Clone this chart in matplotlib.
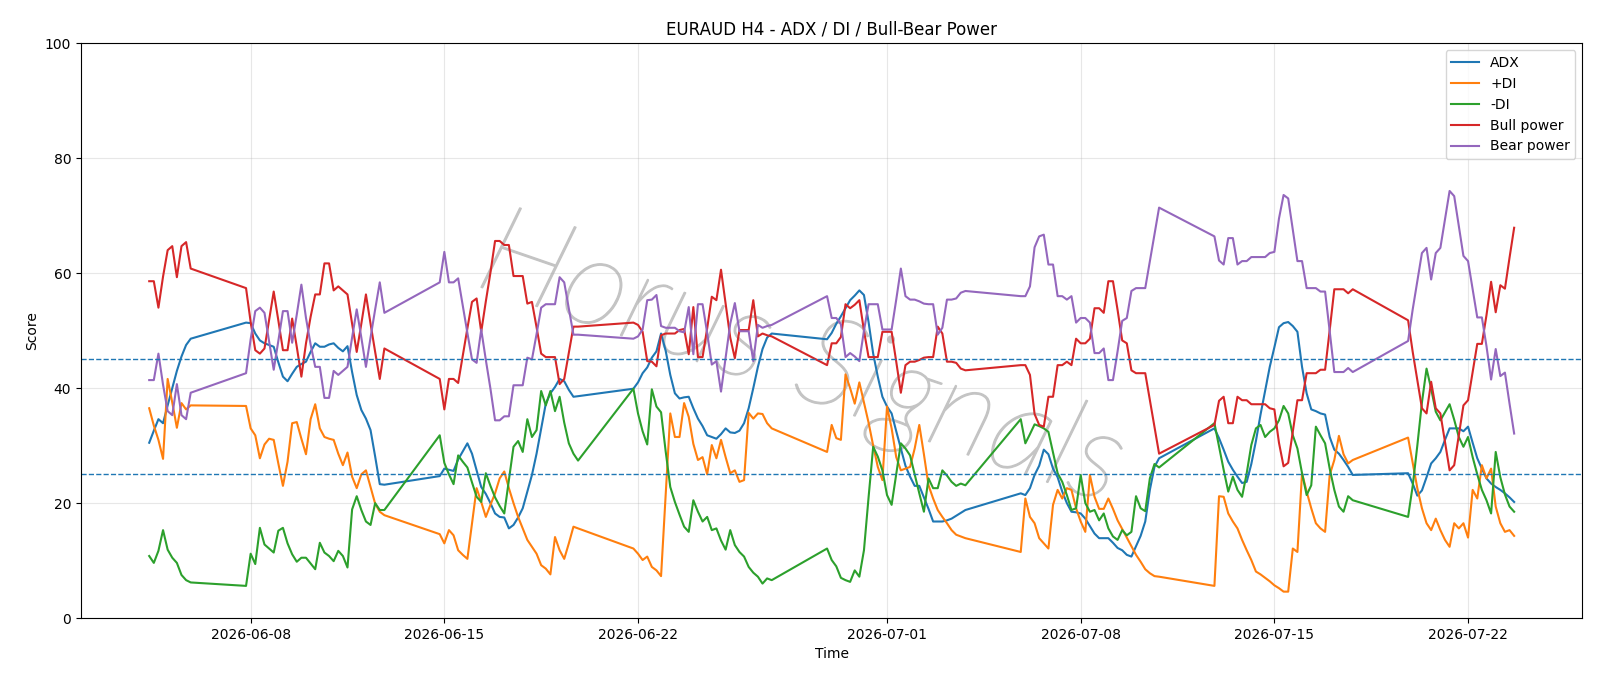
import pandas as pd
import matplotlib
matplotlib.use("Agg")
import matplotlib.pyplot as plt
import matplotlib.patheffects as pe

# H4 bars per trading session (start, number of bars)
sessions = [
    ("2026-06-04 08:00", 10),
    ("2026-06-07 20:00", 31),
    ("2026-06-14 20:00", 31),
    ("2026-06-21 20:00", 31),
    ("2026-06-28 20:00", 31),
    ("2026-07-05 20:00", 31),
    ("2026-07-12 20:00", 31),
    ("2026-07-19 20:00", 24),
]

adx = [
    30.5, 32.6, 34.6, 33.9, 37.0, 40.0, 43.0, 45.5, 47.5, 48.6,
    51.4, 51.3, 49.5, 48.3, 47.8, 47.5, 47.2, 44.5, 42.0, 41.2, 42.5, 43.7, 44.2, 44.6, 46.3, 47.8,
    47.2, 47.2, 47.6, 47.8, 47.0, 46.4, 47.3, 42.8, 38.8, 36.2, 34.7, 32.7, 28.1, 23.3, 23.2,
    24.7, 26.0, 25.8, 25.6, 27.6, 29.0, 30.4, 28.6, 25.7, 22.8, 21.6, 20.0, 18.2, 17.6, 17.5, 15.6,
    16.2, 17.5, 19.1, 22.0, 24.9, 28.6, 33.0, 37.3, 39.1, 40.2, 41.6, 41.2, 39.7, 38.5, 38.6,
    39.9, 41.0, 42.6, 43.6, 45.3, 46.4, 49.5, 46.5, 42.3, 39.1, 38.2, 38.4, 38.5, 36.5, 34.7, 33.4,
    31.8, 31.5, 31.2, 32.0, 33.0, 32.3, 32.2, 32.6, 33.9, 36.5, 40.0, 43.7, 46.8, 48.8, 49.5,
    48.5, 49.6, 51.2, 52.5, 53.9, 55.3, 56.1, 57.0, 56.2, 51.5, 46.0, 42.0, 38.5, 36.8, 35.6, 32.5,
    29.5, 26.5, 24.6, 23.0, 23.0, 21.0, 19.0, 16.8, 16.8, 16.8, 17.0, 17.3, 17.8, 18.3, 18.8,
    21.7, 21.4, 22.6, 24.9, 26.5, 29.3, 28.5, 26.0, 24.5, 22.0, 20.0, 18.5, 18.4, 18.2, 17.3, 16.0,
    14.7, 13.9, 13.9, 13.9, 13.1, 12.2, 11.8, 11.0, 10.7, 12.5, 14.3, 16.8, 22.3, 26.3, 27.8,
    33.0, 31.3, 29.3, 27.2, 25.8, 24.6, 23.5, 23.7, 26.8, 30.8, 35.4, 39.5, 43.7, 47.1, 50.6, 51.3,
    51.5, 50.8, 49.8, 43.7, 39.1, 36.3, 36.0, 35.6, 35.4, 31.5, 29.3, 28.6, 27.5, 26.3, 24.9,
    25.2, 23.4, 21.3, 22.2, 24.5, 26.9, 27.8, 28.9, 31.0, 33.0, 33.0, 33.0, 32.5, 33.3, 30.5, 27.8,
    26.0, 24.3, 23.4, 22.8, 22.3, 21.7, 21.0, 20.2,
]

plus_di = [
    36.5, 33.5, 31.0, 27.7, 41.6, 37.5, 33.1, 37.4, 36.3, 37.0,
    36.9, 33.0, 31.8, 27.8, 30.2, 31.2, 31.0, 26.9, 23.0, 27.2, 33.9, 34.1, 31.2, 28.5, 34.6, 37.2,
    33.0, 31.5, 31.2, 31.0, 28.6, 26.6, 28.8, 24.6, 22.6, 25.0, 25.7, 22.8, 19.9, 18.5, 17.9,
    14.6, 13.0, 15.3, 14.4, 11.8, 11.0, 10.3, 16.5, 22.6, 20.2, 17.6, 19.7, 21.7, 24.3, 25.5, 22.6,
    20.0, 17.6, 15.6, 13.6, 12.4, 11.2, 9.2, 8.6, 7.6, 14.1, 11.8, 10.3, 13.0, 15.9, 15.6,
    12.1, 11.2, 10.1, 10.7, 8.9, 8.3, 7.3, 21.4, 35.6, 31.5, 31.5, 37.4, 35.0, 30.3, 27.5, 28.0,
    25.0, 30.1, 27.8, 31.0, 28.0, 25.2, 25.7, 23.7, 24.0, 35.7, 34.7, 35.6, 35.5, 33.9, 33.0,
    28.9, 33.6, 31.3, 31.0, 42.4, 40.0, 37.3, 41.0, 37.5, 34.0, 30.0, 26.3, 24.0, 36.8, 33.0, 28.0,
    25.7, 26.0, 26.3, 29.5, 33.6, 28.5, 23.1, 20.8, 18.8, 17.6, 16.5, 15.3, 14.5, 14.2, 13.9,
    11.5, 20.8, 17.6, 16.5, 13.9, 13.0, 12.1, 19.7, 22.3, 20.8, 22.6, 22.3, 19.1, 16.8, 15.0, 24.9,
    21.1, 19.0, 19.0, 20.8, 19.0, 17.0, 15.5, 14.0, 12.5, 11.0, 9.8, 8.5, 7.8, 7.3, 7.2,
    5.6, 21.2, 21.1, 18.2, 16.8, 15.6, 13.6, 11.8, 10.1, 8.1, 7.6, 7.0, 6.4, 5.7, 5.2, 4.6,
    4.6, 12.1, 11.5, 25.2, 22.0, 19.1, 16.5, 15.6, 15.0, 24.9, 27.5, 31.7, 28.5, 26.9, 27.5,
    31.4, 27.0, 22.6, 19.1, 16.5, 15.3, 17.3, 15.3, 13.6, 12.4, 16.5, 15.6, 16.5, 14.0, 22.3, 20.8,
    26.6, 24.3, 26.0, 19.4, 16.5, 15.0, 15.3, 14.3,
]

minus_di = [
    10.8, 9.6, 11.7, 15.3, 11.9, 10.5, 9.6, 7.5, 6.6, 6.2,
    5.6, 11.2, 9.4, 15.7, 12.8, 12.1, 11.4, 15.2, 15.7, 13.0, 11.1, 9.8, 10.5, 10.5, 9.5, 8.5,
    13.1, 11.4, 10.8, 9.9, 11.7, 10.8, 8.8, 18.9, 21.2, 18.8, 16.8, 16.2, 20.0, 18.8, 18.8,
    31.8, 27.0, 25.0, 23.3, 28.3, 27.2, 26.2, 23.6, 21.1, 20.2, 25.2, 23.0, 21.0, 19.5, 18.2, 24.0,
    29.8, 30.8, 28.9, 34.6, 31.5, 32.7, 39.5, 37.0, 39.5, 36.0, 38.5, 34.0, 30.4, 28.6, 27.4,
    39.9, 35.6, 32.5, 30.2, 39.8, 36.8, 35.8, 29.0, 22.8, 20.2, 18.0, 15.9, 15.0, 20.5, 18.5, 16.8,
    17.6, 15.3, 15.6, 13.5, 11.9, 15.3, 12.7, 11.5, 10.7, 8.9, 7.9, 7.2, 6.0, 6.9, 6.6,
    12.1, 10.1, 9.0, 7.0, 6.6, 6.3, 8.3, 7.2, 11.8, 21.0, 29.8, 28.1, 25.7, 21.4, 19.7, 25.0,
    30.4, 29.5, 28.3, 25.0, 21.7, 18.5, 24.3, 22.6, 22.6, 25.7, 24.8, 23.7, 23.0, 23.4, 23.1,
    34.6, 30.4, 32.0, 33.7, 33.4, 33.0, 32.4, 28.8, 25.2, 23.7, 21.4, 18.8, 19.1, 24.9, 20.0, 18.5,
    18.8, 17.0, 18.2, 15.6, 14.2, 13.6, 15.3, 14.4, 15.0, 21.2, 19.1, 18.6, 24.3, 26.8, 26.2,
    33.9, 29.8, 25.8, 22.0, 24.6, 22.3, 21.1, 25.2, 30.1, 33.0, 33.6, 31.5, 32.4, 33.0, 34.4, 36.9,
    35.6, 31.8, 29.5, 25.2, 21.4, 23.1, 33.3, 31.8, 30.4, 26.0, 22.3, 19.4, 18.5, 21.2, 20.5,
    17.6, 23.0, 30.0, 37.5, 43.4, 39.9, 35.9, 34.4, 35.8, 37.2, 34.5, 31.5, 29.8, 31.5, 28.0, 25.0,
    22.3, 20.5, 18.2, 28.9, 24.5, 21.5, 19.4, 18.5,
]

bull_power = [
    58.6, 58.6, 54.0, 59.4, 64.0, 64.7, 59.3, 64.7, 65.4, 60.8,
    57.4, 51.5, 46.6, 46.0, 46.9, 51.8, 56.8, 51.8, 46.6, 46.6, 52.1, 47.2, 42.0, 47.8, 52.4, 56.3,
    56.3, 61.7, 61.7, 57.0, 57.7, 57.0, 56.3, 51.2, 46.3, 51.2, 56.3, 51.2, 46.3, 41.6, 46.9,
    41.6, 36.3, 41.6, 41.6, 40.9, 45.7, 50.4, 55.0, 55.6, 49.8, 55.1, 60.1, 65.6, 65.6, 64.9, 64.9,
    59.5, 59.5, 59.5, 54.7, 55.0, 50.6, 46.0, 45.4, 45.4, 45.4, 40.7, 41.6, 46.2, 50.7, 50.7,
    51.4, 51.0, 49.8, 44.7, 44.6, 43.8, 49.2, 49.5, 49.5, 49.5, 50.1, 50.3, 45.9, 54.1, 45.4, 45.4,
    50.4, 55.9, 55.3, 60.6, 54.7, 48.8, 45.2, 50.1, 50.1, 50.1, 55.3, 49.0, 49.5, 49.2, 49.0,
    44.0, 47.8, 47.8, 48.9, 54.6, 53.9, 54.5, 55.3, 50.0, 45.4, 45.4, 45.4, 49.8, 49.8, 49.8, 44.6,
    39.2, 44.0, 44.6, 44.6, 44.9, 45.3, 45.4, 45.4, 50.7, 49.5, 44.6, 44.6, 44.4, 43.4, 43.1,
    44.0, 44.0, 42.3, 35.5, 33.6, 33.3, 38.5, 38.5, 44.0, 44.0, 44.6, 44.0, 48.6, 47.8, 47.8, 48.6,
    53.9, 53.9, 53.1, 58.6, 58.6, 53.6, 48.3, 47.8, 43.1, 42.6, 42.6, 42.6, 37.9, 33.2, 28.6,
    33.6, 37.8, 38.5, 33.9, 33.9, 38.5, 37.9, 37.9, 37.2, 37.2, 37.2, 37.2, 36.5, 36.3, 30.5, 26.4,
    27.0, 32.4, 37.9, 37.9, 42.6, 42.6, 42.6, 43.2, 43.2, 50.1, 57.2, 57.2, 57.2, 56.5, 57.2,
    51.8, 46.3, 41.4, 36.5, 35.6, 41.1, 36.5, 35.6, 30.7, 25.7, 26.6, 31.8, 37.0, 37.9, 42.8, 47.7,
    47.7, 52.7, 58.5, 53.2, 57.9, 57.3, 62.7, 67.9,
]

bear_power = [
    41.4, 41.4, 46.0, 40.6, 36.0, 35.3, 40.7, 35.3, 34.6, 39.2,
    42.6, 48.5, 53.4, 54.0, 53.1, 48.2, 43.2, 48.2, 53.4, 53.4, 47.9, 52.8, 58.0, 52.2, 47.6, 43.7,
    43.7, 38.3, 38.3, 43.0, 42.3, 43.0, 43.7, 48.8, 53.7, 48.8, 43.7, 48.8, 53.7, 58.4, 53.1,
    58.4, 63.7, 58.4, 58.4, 59.1, 54.3, 49.6, 45.0, 44.4, 50.2, 44.9, 39.9, 34.4, 34.4, 35.1, 35.1,
    40.5, 40.5, 40.5, 45.3, 45.0, 49.4, 54.0, 54.6, 54.6, 54.6, 59.3, 58.4, 53.8, 49.3, 49.3,
    48.6, 49.0, 50.2, 55.3, 55.4, 56.2, 50.8, 50.5, 50.5, 50.5, 49.9, 49.7, 54.1, 45.9, 54.6, 54.6,
    49.6, 44.1, 44.7, 39.4, 45.3, 51.2, 54.8, 49.9, 49.9, 49.9, 44.7, 51.0, 50.5, 50.8, 51.0,
    56.0, 52.2, 52.2, 51.1, 45.4, 46.1, 45.5, 44.7, 50.0, 54.6, 54.6, 54.6, 50.2, 50.2, 50.2, 55.4,
    60.8, 56.0, 55.4, 55.4, 55.1, 54.7, 54.6, 54.6, 49.3, 50.5, 55.4, 55.4, 55.6, 56.6, 56.9,
    56.0, 56.0, 57.7, 64.5, 66.4, 66.7, 61.5, 61.5, 56.0, 56.0, 55.4, 56.0, 51.4, 52.2, 52.2, 51.4,
    46.1, 46.1, 46.9, 41.4, 41.4, 46.4, 51.7, 52.2, 56.9, 57.4, 57.4, 57.4, 62.1, 66.8, 71.4,
    66.4, 62.2, 61.5, 66.1, 66.1, 61.5, 62.1, 62.1, 62.8, 62.8, 62.8, 62.8, 63.5, 63.7, 69.5, 73.6,
    73.0, 67.6, 62.1, 62.1, 57.4, 57.4, 57.4, 56.8, 56.8, 49.9, 42.8, 42.8, 42.8, 43.5, 42.8,
    48.2, 53.7, 58.6, 63.5, 64.4, 58.9, 63.5, 64.4, 69.3, 74.3, 73.4, 68.2, 63.0, 62.1, 57.2, 52.3,
    52.3, 47.3, 41.5, 46.8, 42.1, 42.7, 37.3, 32.1,
]

thresholds = [45, 25]


def build_index():
    parts = [pd.date_range(start, periods=n, freq="4h") for start, n in sessions]
    return parts[0].append(parts[1:])


def main():
    times = build_index()
    df = pd.DataFrame({
        "ADX": adx,
        "+DI": plus_di,
        "-DI": minus_di,
        "Bull power": bull_power,
        "Bear power": bear_power,
    }, index=times)

    fig, ax = plt.subplots(figsize=(16, 6.86), dpi=100)
    fig.subplots_adjust(left=0.0506, right=0.989, top=0.937, bottom=0.099)

    for col in df.columns:
        ax.plot(df.index, df[col], label=col, linewidth=1.5)

    for level in thresholds:
        ax.axhline(level, linestyle="--", linewidth=1.0, color="tab:blue")

    ax.set_ylim(0, 100)
    ax.set_title("EURAUD H4 - ADX / DI / Bull-Bear Power")
    ax.set_xlabel("Time")
    ax.set_ylabel("Score")
    ax.grid(True, alpha=0.3)
    ax.legend(loc="upper right")

    # watermark: thin script-like strokes, thickened a little, behind the lines
    ax.text(0.48, 0.445, "Horus Signals", transform=ax.transAxes,
            fontsize=90, color="#c4c4c4", rotation=-19,
            ha="center", va="center", style="italic",
            family=["Lato", "DejaVu Sans"], fontweight="light", zorder=0,
            path_effects=[pe.withStroke(linewidth=1.1, foreground="#c4c4c4")])

    fig.savefig("out.png", dpi=100)


if __name__ == "__main__":
    main()
